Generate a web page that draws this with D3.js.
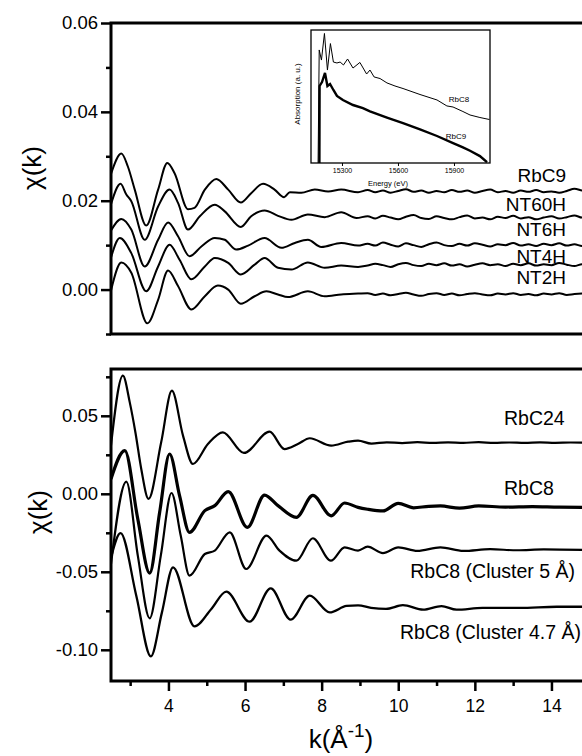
<!DOCTYPE html>
<html>
<head>
<meta charset="utf-8">
<script src="https://cdn.jsdelivr.net/npm/d3@7"></script>
<style>
  body { margin: 0; background: #fff; }
  svg { display: block; }
  text { font-family: "Liberation Sans", Arial, Helvetica, sans-serif; fill: #000; }
</style>
</head>
<body>
<svg id="chart" width="582" height="756"></svg>
<script>
// ---------- EXAFS chi(k) data, [k (1/Å), chi] ----------
// upper panel: RbC9 and the nanotube samples
const rbc9 = [[2.50,0.0260],[2.77,0.0306],[2.94,0.0277],[3.12,0.0225],[3.42,0.0144],[3.73,0.0225],[3.97,0.0285],[4.16,0.0262],[4.51,0.0181],[4.68,0.0184],[4.95,0.0225],[5.25,0.0249],[5.56,0.0225],[5.89,0.0196],[6.16,0.0217],[6.47,0.0238],[6.77,0.0225],[7.02,0.0208],[7.17,0.0219],[7.47,0.0218],[7.82,0.0225],[8.17,0.0221],[8.51,0.0225],[8.95,0.0219],
  [9.2,0.0224],[9.4,0.0219],[9.6,0.0223],[9.8,0.0218],[10.0,0.0222],[10.2,0.0226],[10.4,0.0220],[10.6,0.0223],[10.8,0.0218],[11.0,0.0222],[11.2,0.0219],[11.4,0.0224],[11.6,0.0220],[11.8,0.0223],[12.0,0.0218],[12.2,0.0222],[12.4,0.0225],[12.6,0.0219],[12.8,0.0222],[13.0,0.0218],[13.2,0.0223],[13.4,0.0220],[13.6,0.0224],[13.8,0.0219],[14.0,0.0221],[14.2,0.0218],[14.4,0.0222],[14.6,0.0227],[14.8,0.0223],[14.95,0.0221]];
const nt60h = [[2.50,0.0192],[2.75,0.0238],[2.90,0.0214],[3.03,0.0199],[3.38,0.0112],[3.73,0.0187],[4.03,0.0225],[4.25,0.0195],[4.51,0.0135],[4.82,0.0165],[5.21,0.0191],[5.47,0.0176],[5.89,0.0141],[6.16,0.0165],[6.51,0.0178],[6.86,0.0166],[7.21,0.0157],[7.64,0.0169],[8.08,0.0163],[8.51,0.0174],[8.91,0.0161],
  [9.2,0.0165],[9.4,0.0160],[9.6,0.0166],[9.8,0.0162],[10.0,0.0158],[10.2,0.0164],[10.4,0.0168],[10.6,0.0161],[10.8,0.0159],[11.0,0.0165],[11.2,0.0161],[11.4,0.0158],[11.6,0.0163],[11.8,0.0167],[12.0,0.0160],[12.2,0.0162],[12.4,0.0158],[12.6,0.0164],[12.8,0.0161],[13.0,0.0166],[13.2,0.0160],[13.4,0.0163],[13.6,0.0158],[13.8,0.0162],[14.0,0.0165],[14.2,0.0160],[14.4,0.0163],[14.6,0.0167],[14.8,0.0162],[14.95,0.0164]];
const nt6h = [[2.50,0.0133],[2.77,0.0159],[3.03,0.0135],[3.38,0.0052],[3.73,0.0112],[3.99,0.0151],[4.25,0.0120],[4.55,0.0075],[4.86,0.0097],[5.21,0.0116],[5.47,0.0112],[5.77,0.0090],[6.08,0.0099],[6.51,0.0116],[6.95,0.0094],[7.30,0.0105],[7.64,0.0112],[7.99,0.0096],[8.51,0.0105],[8.95,0.0099],
  [9.2,0.0103],[9.4,0.0099],[9.6,0.0106],[9.8,0.0101],[10.0,0.0097],[10.2,0.0104],[10.4,0.0100],[10.6,0.0096],[10.8,0.0102],[11.0,0.0106],[11.2,0.0100],[11.4,0.0098],[11.6,0.0103],[11.8,0.0099],[12.0,0.0104],[12.2,0.0101],[12.4,0.0097],[12.6,0.0102],[12.8,0.0100],[13.0,0.0105],[13.2,0.0099],[13.4,0.0102],[13.6,0.0098],[13.8,0.0103],[14.0,0.0100],[14.2,0.0104],[14.4,0.0099],[14.6,0.0102],[14.8,0.0098],[14.95,0.0101]];
const nt4h = [[2.50,0.0072],[2.73,0.0116],[3.03,0.0082],[3.42,-0.0004],[3.73,0.0052],[4.03,0.0101],[4.29,0.0067],[4.60,0.0023],[4.95,0.0052],[5.21,0.0071],[5.56,0.0060],[5.89,0.0034],[6.25,0.0056],[6.51,0.0071],[6.86,0.0049],[7.21,0.0045],[7.64,0.0061],[8.08,0.0049],[8.51,0.0054],[8.95,0.0051],
  [9.2,0.0054],[9.4,0.0058],[9.6,0.0055],[9.8,0.0051],[10.0,0.0057],[10.2,0.0060],[10.4,0.0055],[10.6,0.0053],[10.8,0.0058],[11.0,0.0055],[11.2,0.0059],[11.4,0.0054],[11.6,0.0057],[11.8,0.0052],[12.0,0.0056],[12.2,0.0059],[12.4,0.0055],[12.6,0.0057],[12.8,0.0053],[13.0,0.0058],[13.2,0.0055],[13.4,0.0059],[13.6,0.0054],[13.8,0.0057],[14.0,0.0055],[14.2,0.0060],[14.4,0.0056],[14.6,0.0053],[14.8,0.0057],[14.95,0.0055]];
const nt2h = [[2.50,-0.0002],[2.77,0.0061],[3.03,0.0038],[3.45,-0.0076],[3.73,-0.0023],[3.99,0.0043],[4.25,0.0008],[4.60,-0.0045],[4.95,-0.0015],[5.29,0.0009],[5.56,0.0000],[5.89,-0.0032],[6.25,-0.0015],[6.56,-0.0004],[6.86,-0.0011],[7.12,-0.0017],[7.64,-0.0004],[8.08,-0.0015],[8.51,-0.0011],[8.95,-0.0009],
  [9.2,-0.0008],[9.4,-0.0012],[9.6,-0.0009],[9.8,-0.0013],[10.0,-0.0010],[10.2,-0.0007],[10.4,-0.0011],[10.6,-0.0014],[10.8,-0.0010],[11.0,-0.0008],[11.2,-0.0012],[11.4,-0.0009],[11.6,-0.0013],[11.8,-0.0010],[12.0,-0.0008],[12.2,-0.0011],[12.4,-0.0013],[12.6,-0.0009],[12.8,-0.0011],[13.0,-0.0008],[13.2,-0.0012],[13.4,-0.0010],[13.6,-0.0013],[13.8,-0.0009],[14.0,-0.0011],[14.2,-0.0008],[14.4,-0.0012],[14.6,-0.0010],[14.8,-0.0009],[14.95,-0.0011]];

// lower panel: RbC24, RbC8 and the two cluster models
const rbc24 = [[2.50,0.0310],[2.81,0.0757],[2.99,0.0586],[3.14,0.0390],[3.29,0.0159],[3.48,-0.0033],[3.81,0.0330],[4.09,0.0661],[4.38,0.0373],[4.64,0.0191],[5.03,0.0319],[5.42,0.0394],[5.97,0.0262],[6.64,0.0398],[7.03,0.0287],[7.38,0.0319],[7.69,0.0356],[8.25,0.0309],[8.69,0.0334],[8.95,0.0341],
  [9.3,0.0322],[9.7,0.0330],[10.1,0.0325],[10.5,0.0331],[10.9,0.0326],[11.3,0.0330],[11.7,0.0327],[12.1,0.0331],[12.5,0.0326],[12.9,0.0329],[13.3,0.0326],[13.7,0.0330],[14.1,0.0327],[14.5,0.0329],[14.95,0.0328]];
const rbc8 = [[2.50,0.0095],[2.86,0.0277],[3.20,-0.0162],[3.51,-0.0508],[3.77,-0.0119],[4.03,0.0255],[4.29,-0.0012],[4.55,-0.0247],[4.95,-0.0108],[5.21,-0.0076],[5.56,0.0014],[6.06,-0.0215],[6.51,-0.0008],[6.86,-0.0076],[7.34,-0.0151],[7.77,-0.0010],[8.25,-0.0141],[8.60,-0.0059],[8.95,-0.0087],
  [9.2,-0.0099],[9.6,-0.0110],[10.0,-0.0061],[10.4,-0.0090],[10.8,-0.0080],[11.1,-0.0078],[11.6,-0.0092],[12.1,-0.0078],[12.8,-0.0085],[13.5,-0.0082],[14.2,-0.0086],[14.95,-0.0087]];
const cl5 = [[2.50,-0.0450],[2.90,0.0078],[3.20,-0.0396],[3.51,-0.0798],[3.80,-0.0396],[4.08,0.0005],[4.32,-0.0268],[4.55,-0.0525],[4.95,-0.0386],[5.21,-0.0364],[5.60,-0.0247],[6.03,-0.0482],[6.56,-0.0268],[6.90,-0.0364],[7.34,-0.0429],[7.77,-0.0285],[8.24,-0.0429],[8.60,-0.0343],[8.95,-0.0364],
  [9.2,-0.0339],[9.6,-0.0380],[10.0,-0.0343],[10.5,-0.0366],[11.1,-0.0343],[11.7,-0.0366],[12.4,-0.0355],[13.1,-0.0362],[13.8,-0.0356],[14.95,-0.0360]];
const cl47 = [[2.50,-0.0410],[2.75,-0.0252],[3.16,-0.0653],[3.54,-0.1042],[3.83,-0.0760],[4.12,-0.0471],[4.68,-0.0850],[5.12,-0.0738],[5.51,-0.0627],[6.12,-0.0820],[6.67,-0.0606],[7.19,-0.0807],[7.69,-0.0653],[8.21,-0.0760],[8.65,-0.0719],[8.95,-0.0715],
  [9.29,-0.0731],[9.68,-0.0738],[10.12,-0.0714],[10.65,-0.0743],[11.13,-0.0720],[11.52,-0.0743],[12.2,-0.0731],[13.17,-0.0731],[14.14,-0.0724],[14.95,-0.0724]];

// inset: XANES absorption, [energy (eV), absorption (a.u.)]
const xanesRbC8 = [[15172,0],[15178,0.850],[15190,0.774],[15206,0.974],[15222,0.699],[15238,0.898],[15254,0.759],[15273,0.752],[15290,0.759],[15308,0.737],[15330,0.782],[15359,0.714],[15396,0.756],[15432,0.669],[15450,0.699],[15472,0.647],[15504,0.635],[15541,0.602],[15584,0.579],[15627,0.560],[15718,0.515],[15809,0.474],[15862,0.429],[15895,0.421],[15948,0.387],[15986,0.361],[16039,0.342],[16090,0.327]];
const xanesRbC9 = [[15179,0],[15180,0.579],[15193,0.609],[15209,0.677],[15222,0.579],[15236,0.594],[15254,0.549],[15273,0.504],[15305,0.474],[15359,0.436],[15412,0.412],[15450,0.388],[15541,0.342],[15627,0.300],[15718,0.252],[15809,0.203],[15895,0.150],[15948,0.118],[15986,0.092],[16039,0.052],[16077,0.006]];

// tick values and labels
const kTicks = [4, 6, 8, 10, 12, 14];
const kMinor = [3, 5, 7, 9, 11, 13, 15];
const topTicks = [0, 0.02, 0.04, 0.06];
const topMinor = [-0.01, 0.01, 0.03, 0.05];
const botTicks = [-0.10, -0.05, 0, 0.05];
const botMinor = [-0.075, -0.025, 0.025, 0.075];
const insetTicks = [15300, 15600, 15900];

const topSeries = [rbc9, nt60h, nt6h, nt4h, nt2h];
const topNames = ["RbC9", "NT60H", "NT6H", "NT4H", "NT2H"];
const botSeries = [rbc24, rbc8, cl5, cl47];
const botNames = ["RbC24", "RbC8", "RbC8 (Cluster 5 Å)", "RbC8 (Cluster 4.7 Å)"];

// ---------- layout ----------
const svg = d3.select("#chart");
const W = 582;
const x = d3.scaleLinear().domain([2.5, 15]).range([111, 589.75]);
const yTop = d3.scaleLinear().domain([-0.01, 0.06]).range([334, 23]);
const yBot = d3.scaleLinear().domain([-0.12, 0.08]).range([681, 369]);
const fmt = d => d.toFixed(2);

const defs = svg.append("defs");
function clip(id, y0, y1) {
  defs.append("clipPath").attr("id", id).append("rect")
    .attr("x", x.range()[0]).attr("y", y0)
    .attr("width", W - x.range()[0] + 10).attr("height", y1 - y0);
}
clip("clipTop", yTop.range()[1], yTop.range()[0]);
clip("clipBot", yBot.range()[1], yBot.range()[0]);

function styleAxis(g, width) {
  g.select(".domain").remove();
  g.selectAll(".tick line").attr("stroke", "#000").attr("stroke-width", width);
}

function drawPanel(y, ticks, minor, clipId) {
  const g = svg.append("g");
  const left = x.range()[0];
  // tick marks on the left axis
  const major = g.append("g").attr("transform", `translate(${left},0)`)
    .call(d3.axisLeft(y).tickValues(ticks).tickFormat(fmt).tickSize(10).tickPadding(3));
  styleAxis(major, 2.5);
  major.selectAll(".tick text").attr("font-size", 18.5).attr("font-family", null);
  const mn = g.append("g").attr("transform", `translate(${left},0)`)
    .call(d3.axisLeft(y).tickValues(minor).tickFormat("").tickSize(5));
  styleAxis(mn, 2.5);
  // frame: top, left and bottom lines
  const [yb, yt] = y.range();
  g.append("path")
    .attr("d", `M${W + 5},${yt}H${left}V${yb}H${W + 5}`)
    .attr("fill", "none").attr("stroke", "#000").attr("stroke-width", 3);
  return g.append("g").attr("clip-path", `url(#${clipId})`);
}

const topPlot = drawPanel(yTop, topTicks, topMinor, "clipTop");
const botPlot = drawPanel(yBot, botTicks, botMinor, "clipBot");

// curves
const lineTop = d3.line().x(d => x(d[0])).y(d => yTop(d[1])).curve(d3.curveMonotoneX);
const lineBot = d3.line().x(d => x(d[0])).y(d => yBot(d[1])).curve(d3.curveMonotoneX);

topPlot.selectAll("path.top").data(topSeries).join("path")
  .attr("class", "top").attr("d", lineTop)
  .attr("fill", "none").attr("stroke", "#000").attr("stroke-width", 2)
  .attr("stroke-linejoin", "round");

const botWidths = [2.2, 3.2, 2.2, 2.3];
botPlot.selectAll("path.bot").data(botSeries).join("path")
  .attr("class", "bot").attr("d", lineBot)
  .attr("fill", "none").attr("stroke", "#000")
  .attr("stroke-width", (d, i) => botWidths[i])
  .attr("stroke-linejoin", "round");

// bottom k axis
const xMajor = svg.append("g").attr("transform", `translate(0,${yBot.range()[0]})`)
  .call(d3.axisBottom(x).tickValues(kTicks).tickSize(10).tickPadding(9));
styleAxis(xMajor, 2.5);
xMajor.selectAll(".tick text").attr("font-size", 17.5).attr("font-family", null);
const xMinor = svg.append("g").attr("transform", `translate(0,${yBot.range()[0]})`)
  .call(d3.axisBottom(x).tickValues(kMinor).tickFormat("").tickSize(5));
styleAxis(xMinor, 2.5);

// series labels
const topLabelY = [182, 210.5, 236, 262.5, 284];
svg.append("g").selectAll("text").data(topNames).join("text")
  .attr("x", 566).attr("y", (d, i) => topLabelY[i])
  .attr("text-anchor", "end").attr("font-size", 19).text(d => d);

const botLabelPos = [[504, 425, "start"], [504, 495, "start"], [575, 578, "end"], [581, 639, "end"]];
svg.append("g").selectAll("text").data(botNames).join("text")
  .attr("x", (d, i) => botLabelPos[i][0]).attr("y", (d, i) => botLabelPos[i][1])
  .attr("text-anchor", (d, i) => botLabelPos[i][2]).attr("font-size", 19.5).text(d => d);

// axis titles
function yTitle(cx, cy) {
  svg.append("text").attr("transform", `translate(${cx},${cy}) rotate(-90)`)
    .attr("text-anchor", "middle").attr("dy", "0.35em").attr("font-size", 26)
    .text("χ(k)");
}
yTitle(32, 168);
yTitle(38, 512);

const xt = svg.append("text").attr("x", 341).attr("y", 748)
  .attr("text-anchor", "middle").attr("font-size", 26);
xt.append("tspan").text("k(Å");
xt.append("tspan").attr("font-size", 19).attr("dy", -11).text("-1");
xt.append("tspan").attr("dy", 11).text(")");

// ---------- inset: absorption spectra ----------
const xi = d3.scaleLinear().domain([15134, 16093]).range([311, 490]);
const yi = d3.scaleLinear().domain([0, 1]).range([163, 30]);
defs.append("clipPath").attr("id", "clipInset").append("rect")
  .attr("x", 311).attr("y", 30).attr("width", 179).attr("height", 133);

const inset = svg.append("g");
inset.append("rect").attr("x", 311).attr("y", 30).attr("width", 179).attr("height", 133)
  .attr("fill", "#fff").attr("stroke", "#000").attr("stroke-width", 1.3);

const iLine = d3.line().x(d => xi(d[0])).y(d => yi(d[1]));
const iPlot = inset.append("g").attr("clip-path", "url(#clipInset)");
iPlot.append("path").datum(xanesRbC8).attr("d", iLine)
  .attr("fill", "none").attr("stroke", "#000").attr("stroke-width", 1);
iPlot.append("path").datum(xanesRbC9).attr("d", iLine)
  .attr("fill", "none").attr("stroke", "#000").attr("stroke-width", 2.4);

const ia = inset.append("g").attr("transform", "translate(0,163)")
  .call(d3.axisBottom(xi).tickValues(insetTicks).tickFormat(d3.format("d")).tickSize(3).tickPadding(2));
styleAxis(ia, 1);
ia.selectAll(".tick text").attr("font-size", 7).attr("font-family", null);

inset.append("text").attr("x", 388).attr("y", 186).attr("text-anchor", "middle")
  .attr("font-size", 7.5).text("Energy (eV)");
inset.append("text").attr("transform", "translate(297,94) rotate(-90)")
  .attr("text-anchor", "middle").attr("dy", "0.35em").attr("font-size", 8)
  .text("Absorption (a. u.)");
inset.append("text").attr("x", 459).attr("y", 101.5).attr("text-anchor", "middle")
  .attr("font-size", 8).text("RbC8");
inset.append("text").attr("x", 456).attr("y", 139).attr("text-anchor", "middle")
  .attr("font-size", 8).text("RbC9");
</script>
</body>
</html>
